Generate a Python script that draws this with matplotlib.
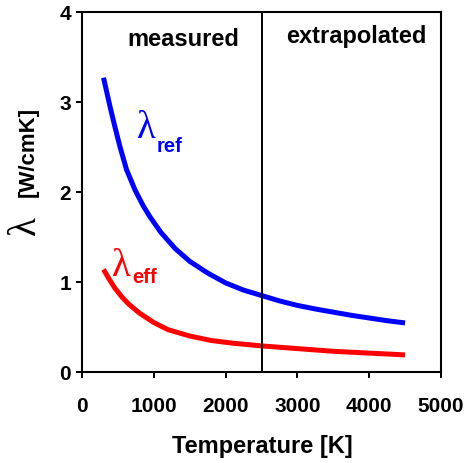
import numpy as np
import matplotlib
matplotlib.use('Agg')
import matplotlib.pyplot as plt

# values
temp_ref = [300, 390, 460, 530, 620, 740, 850, 950, 1100, 1300, 1500, 1750, 2000,
            2250, 2500, 2750, 3000, 3250, 3500, 3750, 4000, 4250, 4500]
lam_ref = [3.27, 2.95, 2.72, 2.50, 2.25, 2.02, 1.85, 1.72, 1.55, 1.37, 1.23, 1.10, 0.99,
           0.91, 0.85, 0.79, 0.74, 0.70, 0.665, 0.63, 0.60, 0.57, 0.545]
temp_eff = [300, 380, 460, 560, 650, 800, 1000, 1200, 1500, 1800, 2100, 2500,
            3000, 3500, 4000, 4500]
lam_eff = [1.14, 1.03, 0.93, 0.83, 0.755, 0.655, 0.55, 0.47, 0.40, 0.35, 0.32, 0.29,
           0.26, 0.23, 0.21, 0.19]
t_split = 2500
xticks = [0, 1000, 2000, 3000, 4000, 5000]
yticks = [0, 1, 2, 3, 4]

W, H = 465, 464
matplotlib.rcParams.update({'font.family': 'Liberation Sans', 'font.weight': 'bold'})

fig = plt.figure(figsize=(W / 100., H / 100.), dpi=100)
ax = fig.add_axes([82. / W, 1 - 373. / H, (441 - 82.) / W, (373 - 13.) / H])

ax.plot(temp_ref, lam_ref, color='#0000ff', lw=3.6, solid_capstyle='butt', solid_joinstyle='round')
ax.plot(temp_eff, lam_eff, color='#ff0000', lw=3.6, solid_capstyle='butt', solid_joinstyle='round')
ax.axvline(t_split, color='black', lw=1.4)

ax.set_xlim(0, 5000)
ax.set_ylim(0, 4)
ax.set_xticks(xticks)
ax.set_yticks(yticks)
ax.tick_params(axis='x', length=4.5, width=1.4, pad=13, labelsize=15)
ax.tick_params(axis='y', length=4.5, width=1.4, pad=3.5, labelsize=15)
for s in ax.spines.values():
    s.set_linewidth(1.5)

# region labels
ax.text(1407, 3.70, 'measured', ha='center', va='center', fontsize=17, fontweight='bold')
ax.text(3816, 3.74, 'extrapolated', ha='center', va='center', fontsize=17, fontweight='bold')

# curve labels
ax.text(891, 2.72, u'\u03bb', ha='center', va='center', fontsize=28, color='#0000ff',
        family='Liberation Serif', fontweight='normal')
ax.text(1045, 2.46, 'ref', ha='left', va='baseline', fontsize=14.5, color='#0000ff', fontweight='bold')
ax.text(543, 1.18, u'\u03bb', ha='center', va='center', fontsize=28, color='#ff0000',
        family='Liberation Serif', fontweight='normal')
ax.text(696, 1.00, 'eff', ha='left', va='baseline', fontsize=14.5, color='#ff0000', fontweight='bold')

# axis labels
fig.text(262. / W, 1 - 447. / H, 'Temperature [K]', ha='center', va='center', fontsize=17, fontweight='bold')
fig.text(28. / W, 1 - 152. / H, '[W/cmK]', ha='center', va='center', rotation=90, fontsize=16, fontweight='bold')
fig.text(26. / W, 1 - 226. / H, u'\u03bb', ha='center', va='center', rotation=90, fontsize=28,
         family='Liberation Serif', fontweight='normal')

plt.savefig('out.png', dpi=100)
